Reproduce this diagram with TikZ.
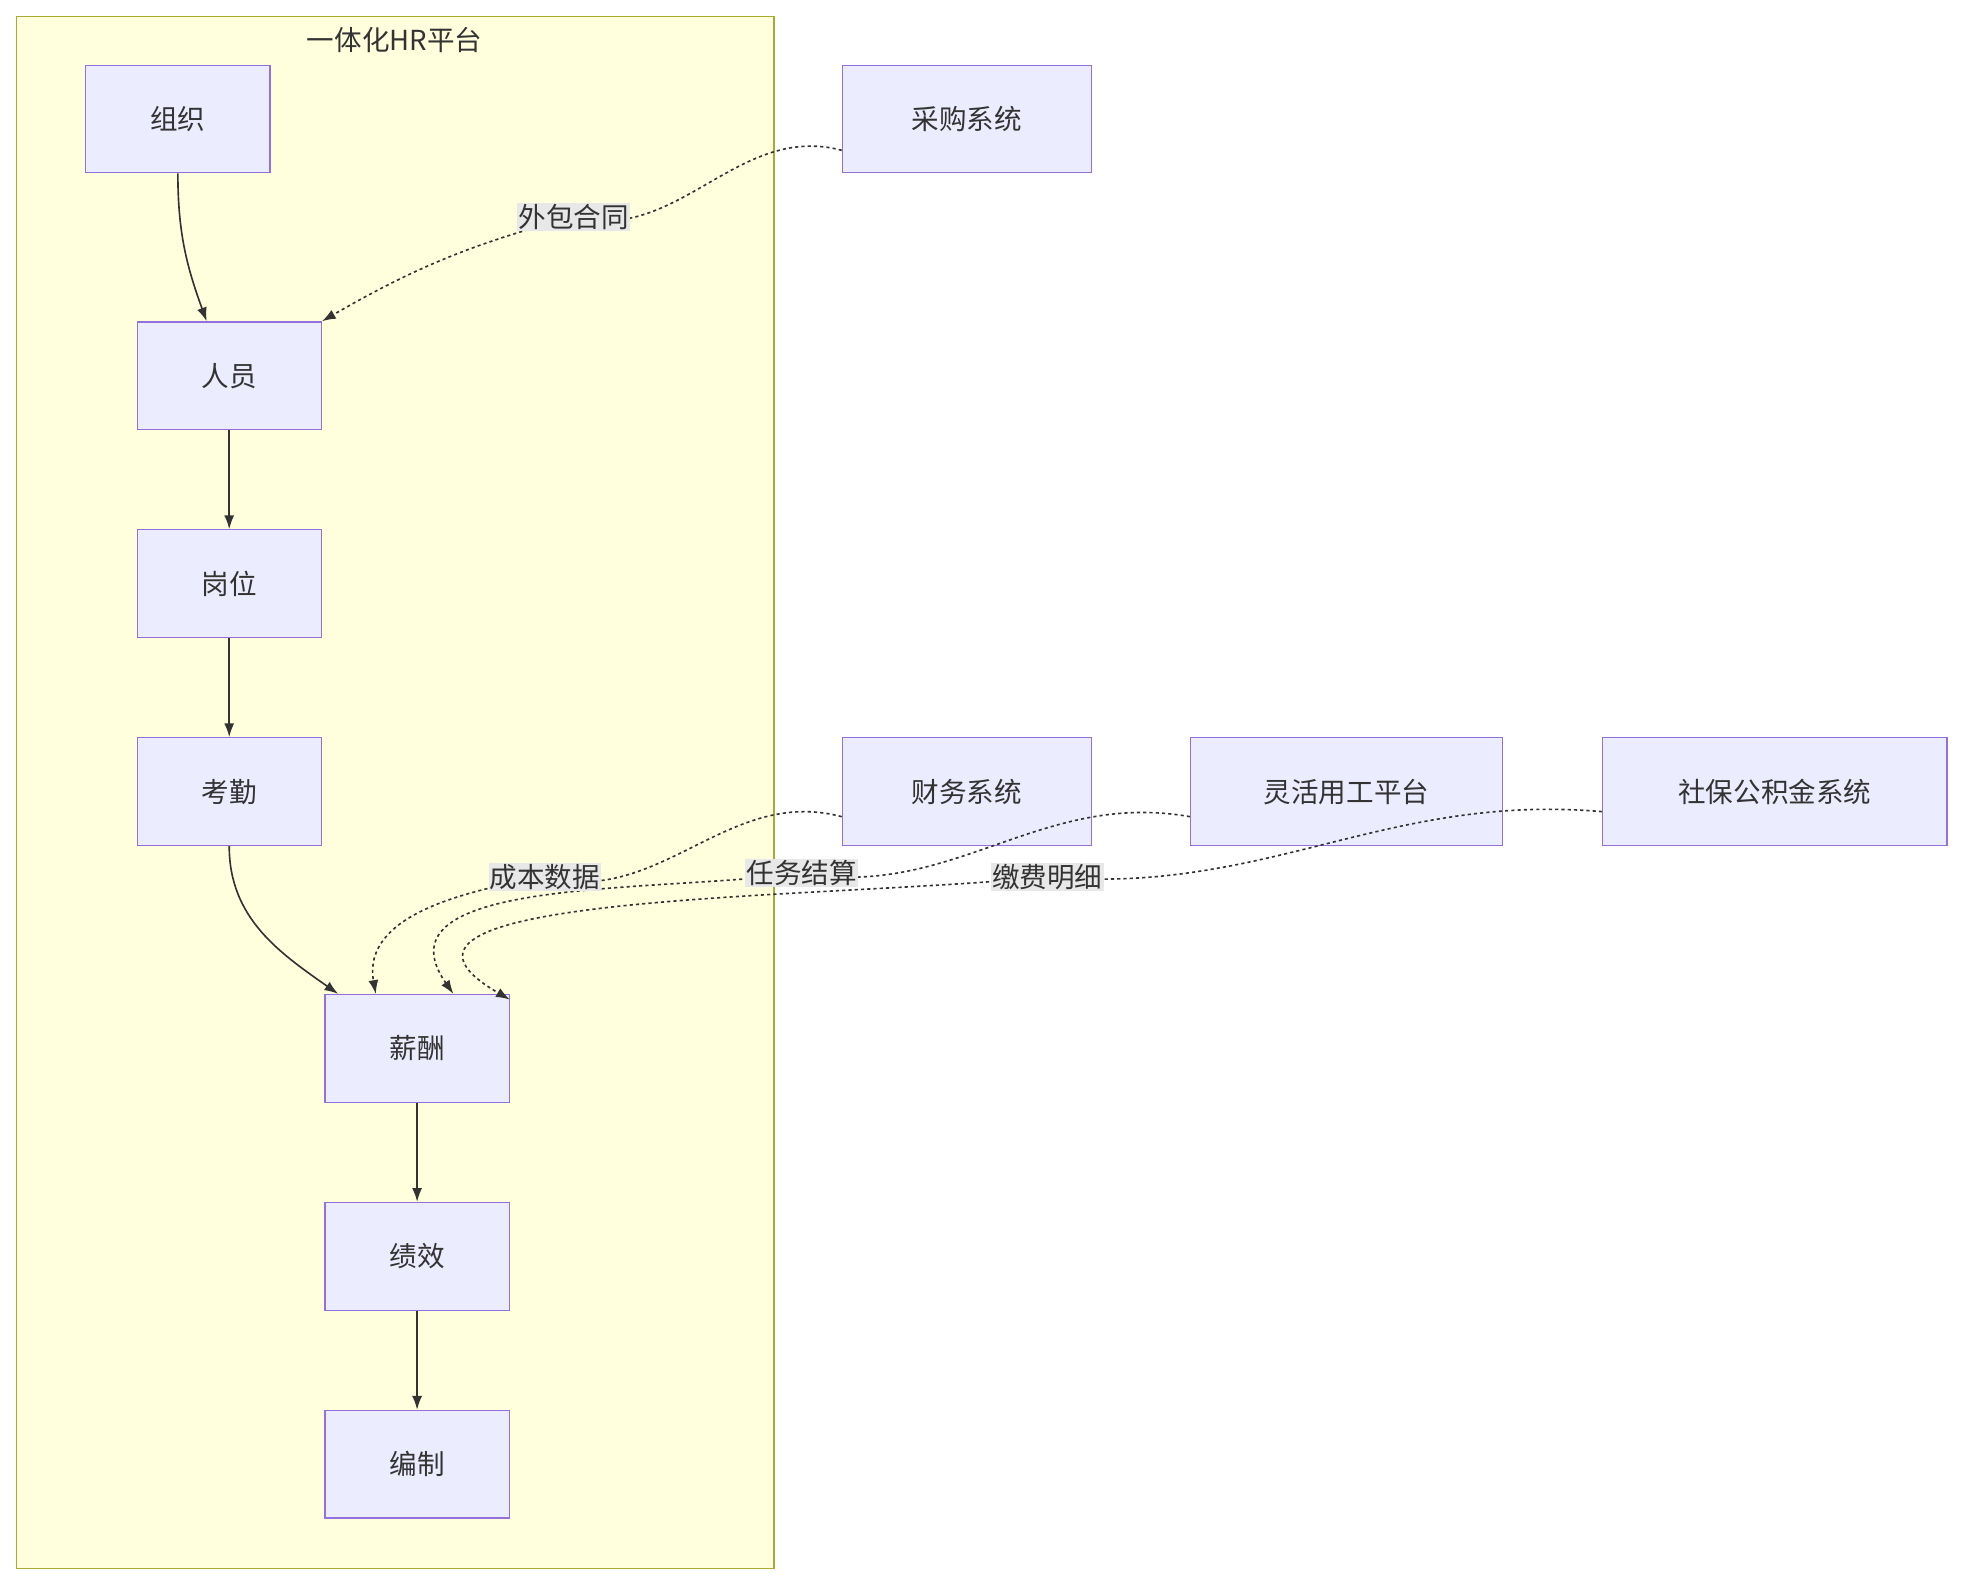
\documentclass[tikz,border=0pt]{standalone}
\usepackage{fontspec}
\setmainfont{Noto Sans CJK SC}
\usetikzlibrary{arrows.meta}
\definecolor{nodefill}{HTML}{ECECFF}
\definecolor{nodeline}{HTML}{9370DB}
\definecolor{clfill}{HTML}{FFFFDE}
\definecolor{clline}{HTML}{AAAA33}
\definecolor{txt}{HTML}{333333}
\begin{document}
\begin{tikzpicture}[x=1pt,y=-1pt,
  box/.style={draw=nodeline,fill=nodefill,line width=1pt,minimum height=86pt,text=txt,font=\fontsize{22}{26}\selectfont},
  lbl/.style={fill=black!9,inner sep=1pt,text=txt,font=\fontsize{22}{26}\selectfont},
  solid edge/.style={draw=txt,line width=1.3pt,-{Latex[length=11pt,width=8pt]}},
  dot edge/.style={draw=txt,line width=1.3pt,dash pattern=on 2.5pt off 2.5pt,-{Latex[length=11pt,width=8pt]}}]
\useasboundingbox (0,0) rectangle (1568,1265);
\draw[fill=clfill,draw=clline,line width=1pt] (13,13) rectangle (618,1252);
\node[text=txt,font=\fontsize{22}{26}\selectfont] (title) at (315,32) {一体化HR平台};
\node[box,minimum width=147pt] (zz) at (142,95) {组织};
\node[box,minimum width=147pt] (ry) at (183,300) {人员};
\node[box,minimum width=147pt] (gw) at (183,466) {岗位};
\node[box,minimum width=147pt] (kq) at (183,632) {考勤};
\node[box,minimum width=147pt] (xc) at (333,837) {薪酬};
\node[box,minimum width=147pt] (jx) at (333,1003) {绩效};
\node[box,minimum width=147pt] (bz) at (333,1169) {编制};
\node[box,minimum width=199pt] (cg) at (772,95) {采购系统};
\node[box,minimum width=199pt] (cw) at (772,632) {财务系统};
\node[box,minimum width=249pt] (lh) at (1075,632) {灵活用工平台};
\node[box,minimum width=275pt] (sb) at (1417,632) {社保公积金系统};
\draw[solid edge] (zz.south) to[out=-90,in=110] (ry.north -| 165,0);
\draw[solid edge] (ry) -- (gw);
\draw[solid edge] (gw) -- (kq);
\draw[solid edge] (kq.south) to[out=-90,in=145] (xc.north -| 270,0);
\draw[solid edge] (xc) -- (jx);
\draw[solid edge] (jx) -- (bz);
\coordinate (c1) at (458,173);
\coordinate (c2) at (435,700);
\coordinate (c3) at (640,697);
\coordinate (c4) at (836,700);
\draw[dot edge] (cg.west |- 0,120) to[out=165,in=-15] (c1) to[out=195,in=30] (ry.north east);
\draw[dot edge] (cw.west |- 0,652) to[out=165,in=-15] (c2) to[out=190,in=100] (xc.north -| 300,0);
\draw[dot edge] (lh.west |- 0,652) to[out=170,in=-10] (c3) to[out=188,in=125] (xc.north -| 362,0);
\draw[dot edge] (sb.west |- 0,648) to[out=175,in=-5] (c4) to[out=186,in=150] (xc.north east |- 0,798);
\node[lbl] (l1) at (c1) {外包合同};
\node[lbl] (l2) at (c2) {成本数据};
\node[lbl] (l3) at (c3) {任务结算};
\node[lbl] (l4) at (c4) {缴费明细};
\end{tikzpicture}
\end{document}
